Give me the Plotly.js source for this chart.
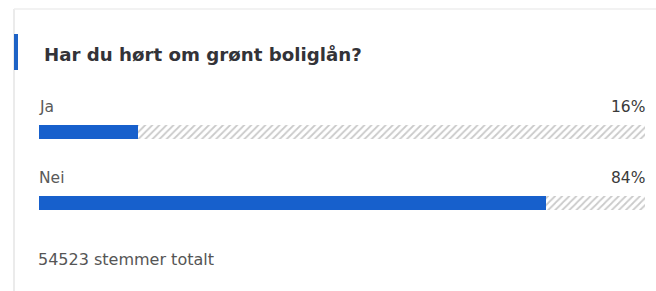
<!DOCTYPE html>
<html>
<head>
<meta charset="utf-8">
<script src="https://cdn.plot.ly/plotly-3.0.1.min.js"></script>
<style>
html,body{margin:0;padding:0;background:#fff;}
#chart{width:656px;height:291px;}
</style>
</head>
<body>
<div id="chart"></div>
<script>
// Data
const categories = ["Ja", "Nei"];
const shareValues = [16.4, 83.6];       // bar lengths (%)
const percentLabels = ["16%", "84%"];   // labels as printed
const totalVotes = 54523;
const questionTitle = "Har du hørt om grønt boliglån?";

const W = 656, H = 291;
const ml = 39, mr = 11, mt = 97, mb = 52;
const pw = W - ml - mr, ph = H - mt - mb;
const px = x => (x - ml) / pw;          // pixel x -> paper
const py = y => 1 - (y - mt) / ph;      // pixel y -> paper

const remainder = shareValues.map(v => 100 - v);
const FONT = "'DejaVu Sans', 'Open Sans', sans-serif";

const traces = [
  {
    type: "bar", orientation: "h",
    y: categories, x: shareValues,
    marker: {color: "#1760cc", line: {width: 0}},
    hoverinfo: "skip"
  },
  {
    type: "bar", orientation: "h",
    y: categories, x: remainder,
    marker: {
      color: "#ffffff",
      line: {width: 0},
      pattern: {shape: "/", fgcolor: "#959595", bgcolor: "#ffffff", size: 5, solidity: 0.35, fillmode: "overlay"}
    },
    hoverinfo: "skip"
  }
];

const annotations = [];
categories.forEach((c, i) => {
  annotations.push({
    xref: "paper", yref: "y", x: 0, y: c, yshift: 25, xshift: -2,
    xanchor: "left", yanchor: "middle", showarrow: false,
    text: c, font: {family: FONT, size: 15.5, color: "#5a5a5a"}
  });
  annotations.push({
    xref: "paper", yref: "y", x: 1, y: c, yshift: 25, xshift: 2,
    xanchor: "right", yanchor: "middle", showarrow: false,
    text: percentLabels[i], font: {family: FONT, size: 15.5, color: "#3a3a3a"}
  });
});
annotations.push({
  xref: "paper", yref: "paper", x: px(36), y: py(259),
  xanchor: "left", yanchor: "middle", showarrow: false,
  text: totalVotes + " stemmer totalt",
  font: {family: FONT, size: 16, color: "#555555"}
});

const layout = {
  width: W, height: H,
  margin: {l: ml, r: mr, t: mt, b: mb, pad: 0},
  paper_bgcolor: "#ffffff", plot_bgcolor: "#ffffff",
  barmode: "stack", bargap: 0.8,
  showlegend: false,
  title: {
    text: "<b>" + questionTitle + "</b>",
    x: 44 / W, xanchor: "left", xref: "container",
    y: 1 - 55 / H, yanchor: "middle", yref: "container",
    font: {family: FONT, size: 18.2, color: "#333338"}
  },
  xaxis: {range: [0, 100], visible: false, fixedrange: true},
  yaxis: {categoryorder: "array", categoryarray: categories, autorange: "reversed",
          visible: false, fixedrange: true},
  annotations: annotations,
  shapes: [
    {type: "line", xref: "paper", yref: "paper", x0: px(14), x1: px(14), y0: py(9), y1: py(291),
     line: {color: "#e4e4e4", width: 1.5}},
    {type: "line", xref: "paper", yref: "paper", x0: px(14), x1: px(656), y0: py(9), y1: py(9),
     line: {color: "#eeeeee", width: 1.5}},
    {type: "rect", xref: "paper", yref: "paper", x0: px(14), x1: px(18), y0: py(34), y1: py(70),
     fillcolor: "#1e63c6", line: {width: 0}}
  ]
};

Plotly.newPlot("chart", traces, layout, {displayModeBar: false, staticPlot: true});
</script>
</body>
</html>
